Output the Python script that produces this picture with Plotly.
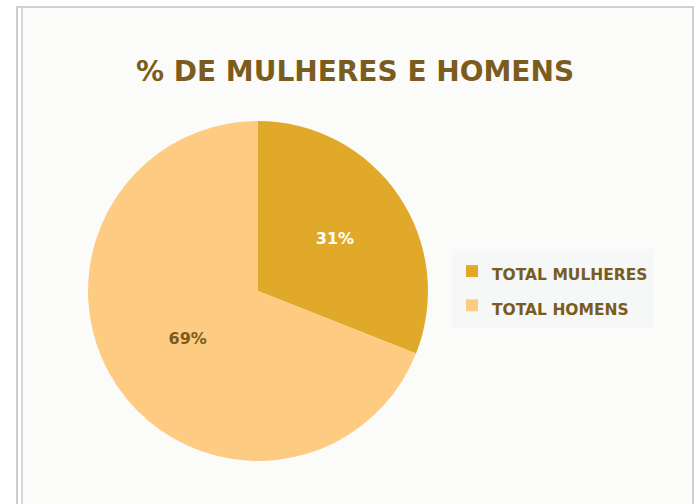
import plotly.graph_objects as go

# data
labels = ["TOTAL MULHERES", "TOTAL HOMENS"]
values = [31, 69]
slice_colors = ["#E0A92A", "#FDCB81"]
label_colors = ["#FFFFFF", "#7A5C1E"]

TITLE_COLOR = "#7A5C1E"
FONT = "DejaVu Sans"

# legend text is drawn smaller than the legend font so the rows get more air
legend_labels = [f"<b><span style='font-size:15.5px'>{t}</span></b>" for t in labels]

fig = go.Figure(go.Pie(
    labels=legend_labels,
    values=values,
    sort=False,
    direction="clockwise",
    rotation=0,
    marker=dict(colors=slice_colors, line=dict(color="#FFFFFF", width=0)),
    texttemplate="<b>%{percent:.0%}</b>",
    textposition="inside",
    insidetextorientation="horizontal",
    textfont=dict(size=16, color=label_colors, family=FONT),
    domain=dict(x=[0.1263, 0.614], y=[0.0853, 0.760]),
    hovertemplate="%{value}%<extra></extra>",
))

fig.update_layout(
    width=697, height=504,
    margin=dict(l=0, r=0, t=0, b=0),
    paper_bgcolor="#FFFFFF",
    title=dict(
        text="<b>% DE MULHERES E HOMENS</b>",
        font=dict(size=28, color=TITLE_COLOR, family=FONT),
        x=355 / 697, xanchor="center",
        y=1 - 71 / 504, yanchor="middle",
    ),
    legend=dict(
        x=452 / 697, y=1 - 249 / 504, xanchor="left", yanchor="top",
        bgcolor="#F6F7F7",
        font=dict(size=24, color=TITLE_COLOR, family=FONT),
        itemwidth=30,
    ),
    shapes=[
        # chart area background and frame lines
        dict(type="rect", xref="paper", yref="paper",
             x0=22 / 697, x1=693 / 697, y0=0, y1=1 - 7 / 504,
             fillcolor="#FBFBFA", line=dict(width=0), layer="below"),
        dict(type="line", xref="paper", yref="paper",
             x0=16 / 697, x1=694 / 697, y0=1 - 7 / 504, y1=1 - 7 / 504,
             line=dict(color="#CFCFCF", width=2)),
        dict(type="line", xref="paper", yref="paper",
             x0=693 / 697, x1=693 / 697, y0=1 - 7 / 504, y1=0,
             line=dict(color="#CFCFCF", width=2)),
        dict(type="line", xref="paper", yref="paper",
             x0=17 / 697, x1=17 / 697, y0=1 - 7 / 504, y1=0,
             line=dict(color="#CFCFCF", width=2)),
        dict(type="line", xref="paper", yref="paper",
             x0=22 / 697, x1=22 / 697, y0=1 - 7 / 504, y1=0,
             line=dict(color="#D8D8D8", width=2)),
    ],
)

fig.write_html("out.html", config={"displayModeBar": False},
               post_script="document.body.style.margin='0';")
